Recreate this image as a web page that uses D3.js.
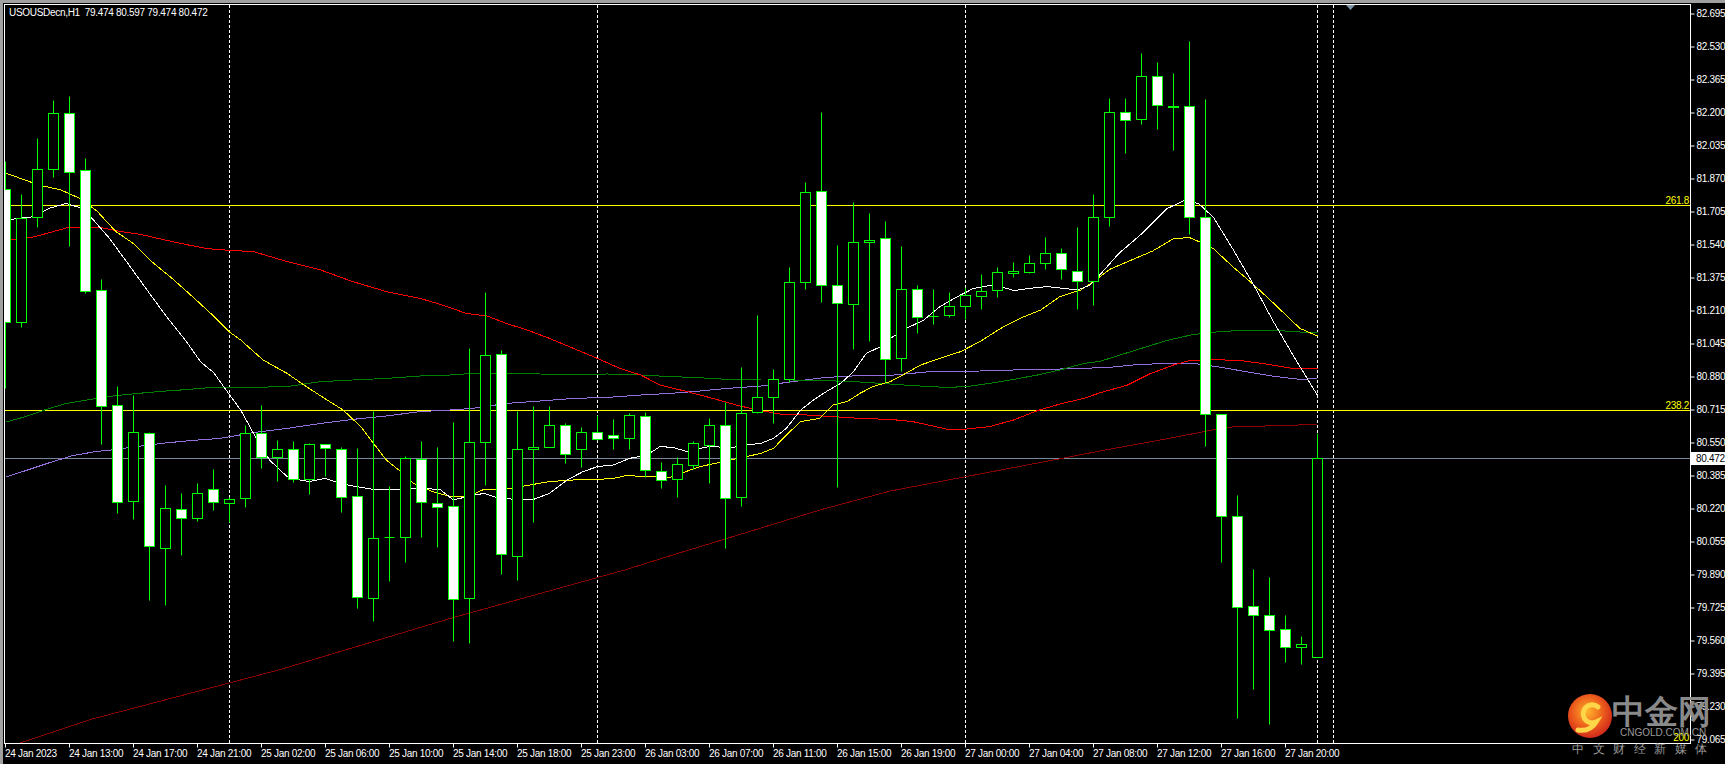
<!DOCTYPE html>
<html><head><meta charset="utf-8">
<script src="https://cdn.jsdelivr.net/npm/d3@7"></script>
<style>
html,body{margin:0;padding:0;background:#000;overflow:hidden}
svg{display:block}
text{font-family:"Liberation Sans",Arial,sans-serif}
</style></head><body>
<svg id="c" width="1725" height="764"></svg>
<script>
// ---------------- DATA ----------------
const title = "USOUSDecn,H1  79.474 80.597 79.474 80.472";
const opens = [81.817,81.152,81.673,81.913,82.197,81.908,81.309,80.735,80.257,80.596,
80.022,80.216,80.171,80.315,80.243,80.272,80.593,80.473,80.513,80.363,
80.538,80.513,80.278,79.768,80.073,80.073,80.463,80.243,80.228,79.770,
80.548,80.988,79.978,80.513,80.527,80.633,80.513,80.598,80.583,80.568,
80.678,80.403,80.363,80.433,80.537,80.633,80.273,80.698,80.773,80.863,
81.348,81.803,81.333,81.238,81.548,81.568,80.968,81.313,81.180,81.187,
81.228,81.282,81.308,81.393,81.398,81.443,81.493,81.403,81.353,81.677,
82.198,82.165,82.379,82.232,82.229,81.677,80.689,80.181,79.729,79.685,
79.613,79.526,79.474];
const highs = [81.955,81.790,82.070,82.259,82.279,81.968,81.365,80.828,80.785,80.600,
80.336,80.293,80.343,80.413,80.277,80.635,80.735,80.560,80.555,80.547,
80.540,80.523,80.520,80.703,80.330,80.480,80.555,80.525,80.648,81.018,
81.298,81.010,80.703,80.730,80.730,80.643,80.623,80.683,80.663,80.693,
80.698,80.450,80.473,80.555,80.668,80.752,80.925,81.185,80.913,81.423,
81.848,82.198,81.535,81.748,81.693,81.653,81.530,81.333,81.315,81.300,
81.327,81.390,81.423,81.450,81.485,81.575,81.518,81.623,81.788,82.272,
82.272,82.496,82.451,82.395,82.556,82.265,80.689,80.286,79.917,79.873,
79.687,79.582,80.597];
const lows = [80.821,81.125,81.626,81.876,81.532,81.293,80.541,80.195,80.164,79.761,
79.736,79.986,80.156,80.211,80.152,80.227,80.422,80.357,80.352,80.288,
80.382,80.202,79.722,79.657,79.857,79.952,80.073,80.027,79.555,79.545,
80.337,79.890,79.860,80.152,80.527,80.447,80.427,80.560,80.513,80.517,
80.377,80.322,80.277,80.413,80.347,80.020,80.230,80.693,80.643,80.852,
81.317,81.252,80.323,81.013,81.057,80.852,80.907,81.097,81.140,81.177,
81.167,81.217,81.277,81.373,81.393,81.417,81.363,81.213,81.233,81.628,
81.997,82.138,82.113,82.008,81.590,80.532,79.951,79.168,79.314,79.139,
79.448,79.440,79.474];
const closes = [81.149,81.668,81.913,82.197,81.898,81.303,80.730,80.252,80.601,80.030,
80.221,80.171,80.297,80.252,80.263,80.593,80.473,80.513,80.363,80.538,
80.518,80.273,79.773,80.068,80.073,80.468,80.248,80.223,79.763,80.548,
80.983,79.988,80.513,80.523,80.633,80.488,80.598,80.563,80.568,80.683,
80.408,80.358,80.438,80.543,80.633,80.268,80.693,80.773,80.863,81.348,
81.798,81.333,81.243,81.548,81.558,80.965,81.313,81.173,81.180,81.228,
81.283,81.303,81.398,81.403,81.443,81.493,81.413,81.353,81.673,82.198,
82.160,82.379,82.236,82.225,81.677,80.689,80.181,79.727,79.687,79.611,
79.526,79.539,80.472];

const xTickBars = [0,4,8,12,16,20,24,28,32,36,40,44,48,52,56,60,64,68,72,76,80];
const xTickLabels = ["24 Jan 2023","24 Jan 13:00","24 Jan 17:00","24 Jan 21:00","25 Jan 02:00","25 Jan 06:00","25 Jan 10:00","25 Jan 14:00","25 Jan 18:00","25 Jan 23:00","26 Jan 03:00","26 Jan 07:00","26 Jan 11:00","26 Jan 15:00","26 Jan 19:00","27 Jan 00:00","27 Jan 04:00","27 Jan 08:00","27 Jan 12:00","27 Jan 16:00","27 Jan 20:00"];
const yTickLabels = ["82.695","82.530","82.365","82.200","82.035","81.870","81.705","81.540","81.375","81.210","81.045","80.880","80.715","80.550","80.385","80.220","80.055","79.890","79.725","79.560","79.395","79.230","79.065"];

const separatorBars = [14,37,60,82,83];
const fibLevels = [81.733,80.709,79.046];
const fibLabels = ["261.8","238.2","200"];
const lastPrice = 80.472;

// moving averages: [bar index, value]
const maWhite = [[0,81.66],[1.7,81.676],[2.8,81.72],[3.8,81.743],[4.7,81.72],[5.5,81.66],[6.5,81.568],[7.6,81.448],[9,81.293],[10.1,81.173],[11.3,81.053],[12.2,80.95],[13,80.898],[14,80.786],[14.7,80.71],[15.5,80.593],[16.5,80.46],[17.6,80.377],[18.4,80.36],[19,80.352],[20,80.368],[20.9,80.343],[22.2,80.323],[23,80.313],[23.8,80.313],[25.1,80.315],[26.3,80.318],[27.2,80.31],[28,80.26],[29,80.28],[29.9,80.293],[30.9,80.268],[32,80.263],[33,80.263],[34,80.293],[35.1,80.36],[36.1,80.402],[37,80.427],[38,80.435],[39,80.468],[40.1,80.485],[40.9,80.527],[41.7,80.523],[42.6,80.502],[43.4,80.518],[44.2,80.53],[45.1,80.518],[46.3,80.535],[47.2,80.543],[48,80.568],[48.8,80.618],[49.7,80.71],[50.5,80.76],[51.3,80.802],[52.2,80.843],[53,80.902],[53.8,80.993],[54.7,81.027],[55.3,81.068],[56.3,81.118],[57.4,81.16],[58.4,81.227],[59.5,81.277],[60.5,81.318],[61.5,81.332],[62.6,81.318],[63,81.307],[64,81.318],[65.1,81.327],[66.1,81.318],[67,81.31],[67.8,81.335],[68.4,81.386],[69.6,81.494],[70.9,81.583],[72.6,81.717],[73.8,81.762],[74.6,81.74],[75.5,81.673],[76.7,81.516],[78,81.337],[79.2,81.158],[80.5,80.98],[82,80.783]];
const maYellow = [[0,81.895],[0.9,81.869],[1.7,81.846],[2.4,81.829],[3.4,81.812],[4,81.791],[4.7,81.766],[5.7,81.706],[6.9,81.602],[8,81.542],[9.2,81.448],[10.5,81.362],[11.7,81.276],[13,81.18],[14,81.1],[14.7,81.06],[16.1,80.96],[17.6,80.893],[18.8,80.827],[20.1,80.76],[21.1,80.71],[22.2,80.627],[23,80.543],[23.8,80.46],[24.7,80.402],[25.5,80.343],[26.7,80.302],[27.8,80.277],[29,80.28],[29.9,80.313],[30.9,80.31],[32.4,80.33],[34,80.352],[35.5,80.36],[37,80.363],[38,80.368],[38.8,80.382],[40.1,80.377],[41.5,80.373],[42.2,80.393],[43.4,80.427],[44.6,80.447],[46.3,80.477],[47.2,80.493],[48,80.518],[48.8,80.585],[49.7,80.652],[50.9,80.668],[51.7,80.735],[52.6,80.752],[53.4,80.793],[54.2,80.827],[55.3,80.852],[55.9,80.877],[57.2,80.935],[58.4,80.968],[59.7,81.002],[60.9,81.052],[62.2,81.118],[63.4,81.168],[64.7,81.21],[65.9,81.277],[67.2,81.31],[68,81.352],[69,81.413],[70.7,81.471],[71.7,81.505],[73,81.567],[74,81.572],[74.65,81.55],[75.5,81.516],[76.7,81.427],[78,81.337],[79.2,81.248],[80.9,81.118],[82,81.08]];
const maRed = [[0,81.56],[1.5,81.571],[2.4,81.589],[3.8,81.62],[4.7,81.623],[5.9,81.623],[7.2,81.602],[8.4,81.589],[9.7,81.565],[11.3,81.537],[12.6,81.517],[14,81.508],[15.5,81.502],[17.6,81.452],[19.7,81.41],[21.7,81.352],[23.8,81.302],[25.9,81.268],[27.2,81.238],[28.8,81.193],[30.1,81.18],[31.3,81.143],[32.6,81.11],[34,81.068],[35.5,81.018],[37,80.968],[38.4,80.918],[39.7,80.885],[40.9,80.835],[42.6,80.802],[44.2,80.768],[45.9,80.73],[47.2,80.707],[48.4,80.69],[50.1,80.685],[51.7,80.677],[53.4,80.668],[55.3,80.663],[56.7,80.652],[58.8,80.615],[60.1,80.615],[61.5,80.627],[63,80.66],[64.5,80.707],[65.9,80.74],[67.4,80.768],[68.4,80.796],[70.1,80.834],[71.5,80.89],[73,80.935],[74,80.957],[75.5,80.962],[77.2,80.957],[78.8,80.94],[80.5,80.917],[82,80.917]];
const maGreen = [[0,80.649],[1.3,80.678],[2.4,80.709],[3.8,80.743],[5.1,80.76],[6.5,80.778],[8,80.791],[9.7,80.803],[11.3,80.812],[12.6,80.821],[14,80.821],[17.6,80.827],[19.7,80.852],[21.7,80.86],[23.8,80.868],[25.9,80.88],[27.8,80.885],[29.2,80.893],[31.3,80.893],[33.4,80.89],[35.5,80.887],[37.6,80.89],[39.7,80.885],[41.5,80.877],[43,80.873],[45.1,80.863],[47.2,80.86],[49.2,80.86],[51.3,80.857],[53.4,80.85],[55.3,80.84],[56.7,80.832],[58.8,80.823],[60.1,80.827],[61.5,80.843],[63,80.863],[64.5,80.885],[65.9,80.91],[67.4,80.943],[68.4,80.953],[69,80.968],[70.5,81.006],[72.6,81.058],[74.2,81.087],[75.9,81.102],[77.6,81.109],[79.2,81.109],[80.9,81.1],[82,81.096]];
const maPurple = [[0,80.374],[1.3,80.408],[2.8,80.448],[4.2,80.482],[5.7,80.503],[6.7,80.511],[8.4,80.529],[10.1,80.546],[11.7,80.558],[13.4,80.568],[15.5,80.597],[17.6,80.618],[19.7,80.643],[21.7,80.663],[23.8,80.68],[25.9,80.702],[27.8,80.71],[29.2,80.718],[31.3,80.743],[33.4,80.755],[35.5,80.768],[37.6,80.773],[39.7,80.785],[41.5,80.793],[43,80.802],[45.1,80.818],[47.2,80.83],[49.2,80.852],[51.3,80.873],[53.4,80.882],[55.3,80.883],[57.8,80.902],[60.9,80.905],[63,80.91],[65.1,80.913],[67.2,80.918],[69,80.923],[70.5,80.935],[72.6,80.944],[74.2,80.944],[75.9,80.924],[77.6,80.901],[79.2,80.879],[80.9,80.863],[82,80.868]];
const maDarkRed = [[0,79.02],[0.7,79.04],[5.2,79.16],[17.2,79.413],[27.8,79.668],[38.7,79.91],[41.5,79.98],[50.9,80.21],[55.3,80.305],[65.5,80.46],[68.4,80.505],[72.6,80.566],[76.3,80.624],[82,80.638]];

// ---------------- CHART ----------------
const W = 1725, H = 764;
const svg = d3.select("#c");
const x = d3.scaleLinear().domain([0, 82]).range([5.5, 1317.5]);
const y = d3.scaleLinear().domain([79.065, 82.695]).range([739, 13]);
const crisp = v => Math.round(v) + 0.5;

svg.append("rect").attr("width", W).attr("height", H).attr("fill", "#000");
svg.append("rect").attr("x", 0).attr("y", 0).attr("width", W).attr("height", 3).attr("fill", "#a0a0a0");
svg.append("rect").attr("x", 0).attr("y", 0).attr("width", 3).attr("height", H).attr("fill", "#a0a0a0");

const defs = svg.append("defs");
defs.append("clipPath").attr("id", "clip").append("rect")
  .attr("x", 5).attr("y", 5).attr("width", 1685).attr("height", 738);
const lg = defs.append("radialGradient").attr("id", "logoGrad").attr("cx", "45%").attr("cy", "40%").attr("r", "60%");
lg.append("stop").attr("offset", "0%").attr("stop-color", "#ffb52a");
lg.append("stop").attr("offset", "60%").attr("stop-color", "#ec5a1c");
lg.append("stop").attr("offset", "100%").attr("stop-color", "#cf2a1c");

const g = svg.append("g").attr("clip-path", "url(#clip)");

// separators
g.selectAll("line.sep").data(separatorBars).join("line").attr("class", "sep")
  .attr("x1", d => x(d)).attr("x2", d => x(d)).attr("y1", 5).attr("y2", 743)
  .attr("stroke", "#fff").attr("stroke-width", 1).attr("stroke-dasharray", "3,2");

// fib lines
g.selectAll("line.fib").data(fibLevels).join("line").attr("class", "fib")
  .attr("x1", 5).attr("x2", 1690).attr("y1", d => crisp(y(d))).attr("y2", d => crisp(y(d)))
  .attr("stroke", "#ffff00").attr("stroke-width", 1);

// price line
g.append("line").attr("x1", 5).attr("x2", 1690)
  .attr("y1", crisp(y(lastPrice))).attr("y2", crisp(y(lastPrice)))
  .attr("stroke", "#778899").attr("stroke-width", 1);

// moving averages
const line = d3.line().x(d => x(d[0])).y(d => y(d[1]));
const mas = [
  [maDarkRed, "#8b0000"],
  [maPurple, "#9370db"],
  [maGreen, "#008000"],
  [maRed, "#ff0000"],
  [maYellow, "#ffff00"],
  [maWhite, "#ffffff"]
];
mas.forEach(([data, color]) => {
  g.append("path").datum(data).attr("d", line).attr("fill", "none")
    .attr("stroke", color).attr("stroke-width", 1).attr("shape-rendering", "crispEdges");
});

// candles
const bars = opens.map((o, i) => ({i, o, h: highs[i], l: lows[i], c: closes[i]}));
const cg = g.append("g");
bars.forEach(b => {
  const cx = crisp(x(b.i) - 0.5);
  cg.append("line").attr("x1", cx).attr("x2", cx)
    .attr("y1", crisp(y(b.h))).attr("y2", crisp(y(b.l)))
    .attr("stroke", "#00ff00").attr("stroke-width", 1);
  const top = crisp(y(Math.max(b.o, b.c)));
  const bot = crisp(y(Math.min(b.o, b.c)));
  if (bot - top < 1) {
    cg.append("line").attr("x1", cx - 5).attr("x2", cx + 5).attr("y1", top).attr("y2", top)
      .attr("stroke", "#00ff00").attr("stroke-width", 1);
  } else {
    cg.append("rect").attr("x", cx - 5).attr("y", top).attr("width", 10).attr("height", bot - top)
      .attr("fill", b.c < b.o ? "#ffffff" : "#000000")
      .attr("stroke", "#00ff00").attr("stroke-width", 1);
  }
});

// frame
svg.append("rect").attr("x", 4.5).attr("y", 4.5).attr("width", 1686).attr("height", 739)
  .attr("fill", "none").attr("stroke", "#ffffff").attr("stroke-width", 1);

// shift marker
svg.append("path").attr("d", "M1346,5 L1355,5 L1350.5,10 Z").attr("fill", "#7f93a8");

// axes
const yAxis = d3.axisRight(y).tickValues(yTickLabels.map(Number)).tickSize(4)
  .tickFormat((d, i) => yTickLabels[i]);
const ya = svg.append("g").attr("transform", "translate(1690.5,0)").call(yAxis);
ya.select(".domain").remove();
ya.selectAll("line").attr("stroke", "#fff").attr("transform", "translate(0,0.5)");
ya.selectAll("text").attr("fill", "#fff").attr("font-size", 10).attr("x", 6)
  .attr("letter-spacing", "-0.3").attr("font-family", "Liberation Sans, Arial, sans-serif");

const xAxis = d3.axisBottom(x).tickValues(xTickBars).tickSize(4)
  .tickFormat((d, i) => xTickLabels[i]);
const xa = svg.append("g").attr("transform", "translate(0,743.5)").call(xAxis);
xa.select(".domain").remove();
xa.selectAll("line").attr("stroke", "#fff").attr("transform", "translate(-0.5,0)");
xa.selectAll("text").attr("fill", "#fff").attr("font-size", 10).attr("text-anchor", "start")
  .attr("x", -1).attr("y", 6).attr("letter-spacing", "-0.3")
  .attr("font-family", "Liberation Sans, Arial, sans-serif");

// fib labels
svg.selectAll("text.fibl").data(fibLevels).join("text").attr("class", "fibl")
  .attr("x", 1689).attr("y", d => Math.min(crisp(y(d)) - 2, 741))
  .attr("text-anchor", "end").attr("fill", "#ffff00").attr("font-size", 10)
  .attr("letter-spacing", "-0.3").text((d, i) => fibLabels[i]);

// current price box
const py = y(lastPrice);
svg.append("rect").attr("x", 1691).attr("y", Math.round(py) - 6).attr("width", 34).attr("height", 13).attr("fill", "#fff");
svg.append("text").attr("x", 1696).attr("y", Math.round(py) + 4).attr("fill", "#000")
  .attr("font-size", 10).attr("letter-spacing", "-0.3").text(lastPrice.toFixed(3));

// title
svg.append("text").attr("x", 9).attr("y", 16).attr("fill", "#fff").attr("font-size", 10)
  .attr("letter-spacing", "-0.3").attr("xml:space", "preserve").style("white-space", "pre").text(title);

// watermark
const wm = svg.append("g");
wm.append("circle").attr("cx", 1590).attr("cy", 716).attr("r", 22).attr("fill", "url(#logoGrad)");
wm.append("path").attr("d", "M1598,707 A9,9 0 1 0 1596,722 Q1590,732 1578,730")
  .attr("fill", "none").attr("stroke", "#ffd648").attr("stroke-width", 5).attr("stroke-linecap", "round");
wm.append("text").attr("x", 1612).attr("y", 723).attr("fill", "#8a8a8a")
  .attr("font-family", "Noto Sans CJK SC").attr("font-weight", "bold").attr("font-size", 33).text("中金网");
wm.append("text").attr("x", 1620).attr("y", 736).attr("fill", "#9a9a9a")
  .attr("font-size", 10).text("CNGOLD.COM.CN");
wm.append("text").attr("x", 1572).attr("y", 753).attr("fill", "#9a9a9a")
  .attr("font-family", "Noto Sans CJK SC").attr("font-size", 12).attr("letter-spacing", "8.5").text("中文财经新媒体");
</script>
</body></html>
